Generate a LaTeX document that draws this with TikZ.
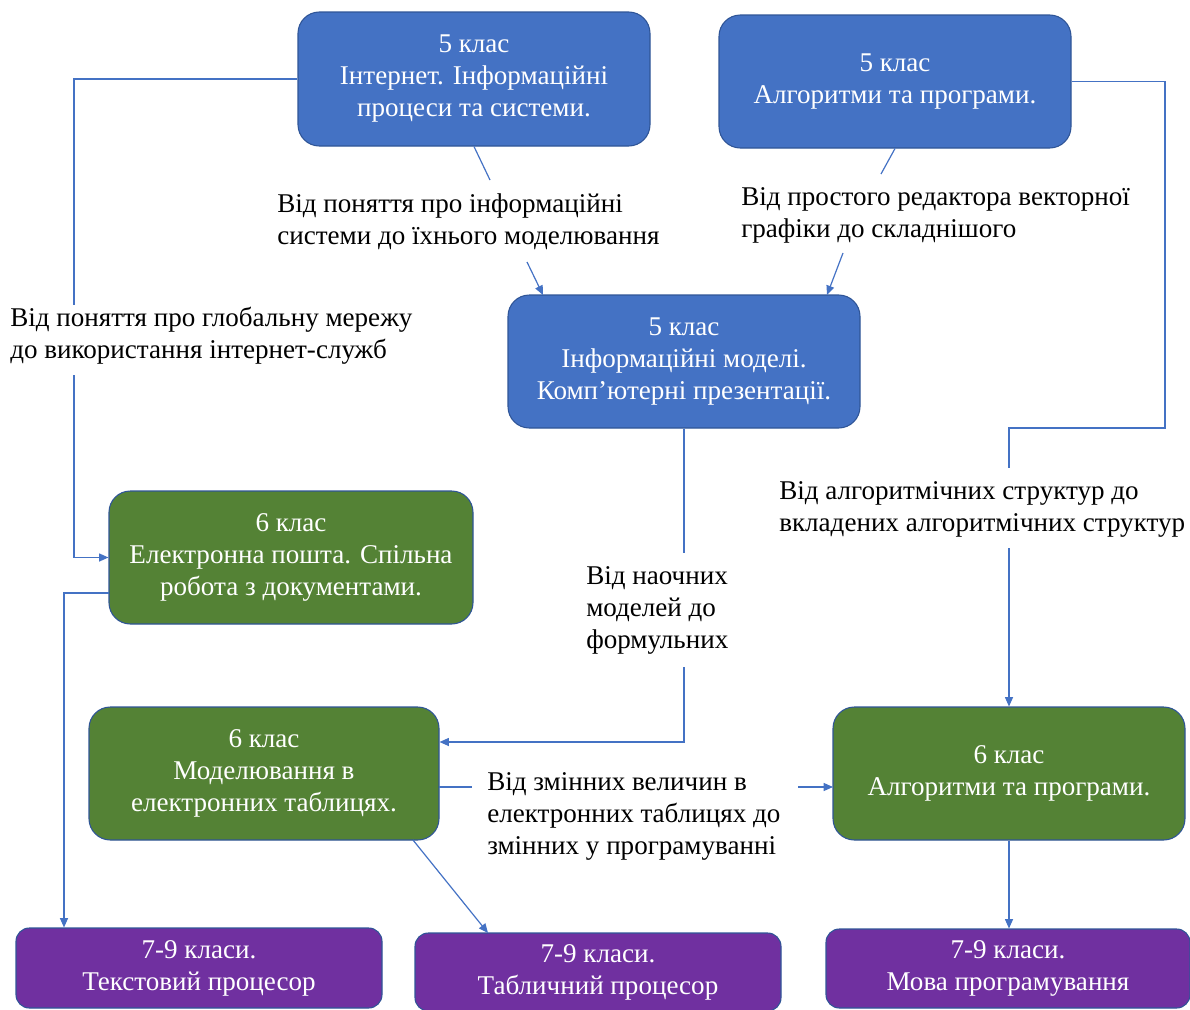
\documentclass[tikz,border=0pt]{standalone}
\usepackage{fontspec}
\setmainfont{Liberation Serif}
\newfontfamily\dfont{Liberation Serif}
\usetikzlibrary{arrows.meta}
\definecolor{bfill}{HTML}{4472C4}
\definecolor{gfill}{HTML}{548235}
\definecolor{pfill}{HTML}{7030A0}
\definecolor{edge}{HTML}{2F5597}
\definecolor{conn}{HTML}{4472C4}
\tikzset{
  box/.style={draw=edge, line width=0.8pt, rounded corners=16pt, text=white, align=center, inner sep=0pt, font=\dfont\fontsize{20.3}{24}\selectfont},
  bluebox/.style={box, fill=bfill},
  greenbox/.style={box, fill=gfill},
  purplebox/.style={box, fill=pfill, rounded corners=10pt},
  lbl/.style={align=left, anchor=west, inner sep=0pt, text=black, font=\dfont\fontsize{20.3}{24}\selectfont},
  conline/.style={draw=conn, line width=0.9pt},
  conarrow/.style={conline, -{Triangle[length=7pt,width=6pt]}}
}
\begin{document}
\begin{tikzpicture}[x=0.75pt,y=-0.75pt]
\useasboundingbox (0,0) rectangle (1190,1010);
% boxes
\node[bluebox, minimum width={352*0.75pt}, minimum height={134*0.75pt}] (B1) at (474,79) {5 клас\\Інтернет. Інформаційні\\процеси та системи.};
\node[bluebox, minimum width={352*0.75pt}, minimum height={133*0.75pt}] (B2) at (895,81.5) {5 клас\\Алгоритми та програми.};
\node[bluebox, minimum width={352*0.75pt}, minimum height={133*0.75pt}] (B3) at (684,361.5) {5 клас\\Інформаційні моделі.\\Комп’ютерні презентації.};
\node[greenbox, minimum width={364*0.75pt}, minimum height={133*0.75pt}] (G1) at (291,557.5) {6 клас\\Електронна пошта. Спільна\\робота з документами.};
\node[greenbox, minimum width={350*0.75pt}, minimum height={133*0.75pt}] (G2) at (264,773.5) {6 клас\\Моделювання в\\електронних таблицях.};
\node[greenbox, minimum width={352*0.75pt}, minimum height={133*0.75pt}] (G3) at (1009,773.5) {6 клас\\Алгоритми та програми.};
\node[purplebox, minimum width={366*0.75pt}, minimum height={80*0.75pt}] (P1) at (199,968) {7-9 класи.\\Текстовий процесор};
\node[purplebox, minimum width={366*0.75pt}, minimum height={78*0.75pt}] (P2) at (598,972) {7-9 класи.\\Табличний процесор};
\node[purplebox, minimum width={364*0.75pt}, minimum height={79*0.75pt}] (P3) at (1008,968.5) {7-9 класи.\\Мова програмування};
% labels
\node[lbl] (L1) at (10,336) {Від поняття про глобальну мережу\\до використання інтернет-служб};
\node[lbl] (L2) at (277,222) {Від поняття про інформаційні\\системи до їхнього моделювання};
\node[lbl] (L3) at (741,215) {Від простого редактора векторної\\графіки до складнішого};
\node[lbl] (L4) at (779,509) {Від алгоритмічних структур до\\вкладених алгоритмічних структур};
\node[lbl] (L5) at (586,610) {Від наочних\\моделей до\\формульних};
\node[lbl] (L6) at (487,816) {Від змінних величин в\\електронних таблицях до\\змінних у програмуванні};
% coordinates
\coordinate (c1a) at (74,305);
\coordinate (c1b) at (74,375);
\coordinate (c2a) at (490,180);
\coordinate (c2b) at (527,262);
\coordinate (c2e) at (543,295);
\coordinate (c3a) at (881,174);
\coordinate (c3b) at (843,253);
\coordinate (c3e) at (827,295);
\coordinate (c4a) at (1165,428);
\coordinate (c4b) at (1009,468);
\coordinate (c4c) at (1009,548);
\coordinate (c5a) at (684,553);
\coordinate (c5b) at (684,667);
\coordinate (c5c) at (684,742);
\coordinate (c6s) at (439,787);
\coordinate (c6a) at (472,787);
\coordinate (c6b) at (798,787);
\coordinate (c6e) at (833,787);
\coordinate (c7s) at (109,593);
\coordinate (c7a) at (64,593);
\coordinate (c8s) at (413,840);
\coordinate (c8e) at (488,933);
% connectors
\draw[conline] (B1.west) -| (c1a);
\draw[conarrow] (c1b) |- (G1.west);
\draw[conline] (B1.south) -- (c2a);
\draw[conarrow] (c2b) -- (c2e);
\draw[conline] (B2.south) -- (c3a);
\draw[conarrow] (c3b) -- (c3e);
\draw[conline] (B2.east) -| (c4a) -| (c4b);
\draw[conarrow] (c4c) -- (G3.north);
\draw[conline] (B3.south) -- (c5a);
\draw[conarrow] (c5b) |- (G2.east |- c5c);
\draw[conline] (c6s) -- (c6a);
\draw[conarrow] (c6b) -- (c6e);
\draw[conarrow] (c7s) -- (c7a) -- (P1.north -| c7a);
\draw[conarrow] (c8s) -- (c8e);
\draw[conarrow] (G3.south) -- (P3.north -| G3.south);
\end{tikzpicture}
\end{document}
